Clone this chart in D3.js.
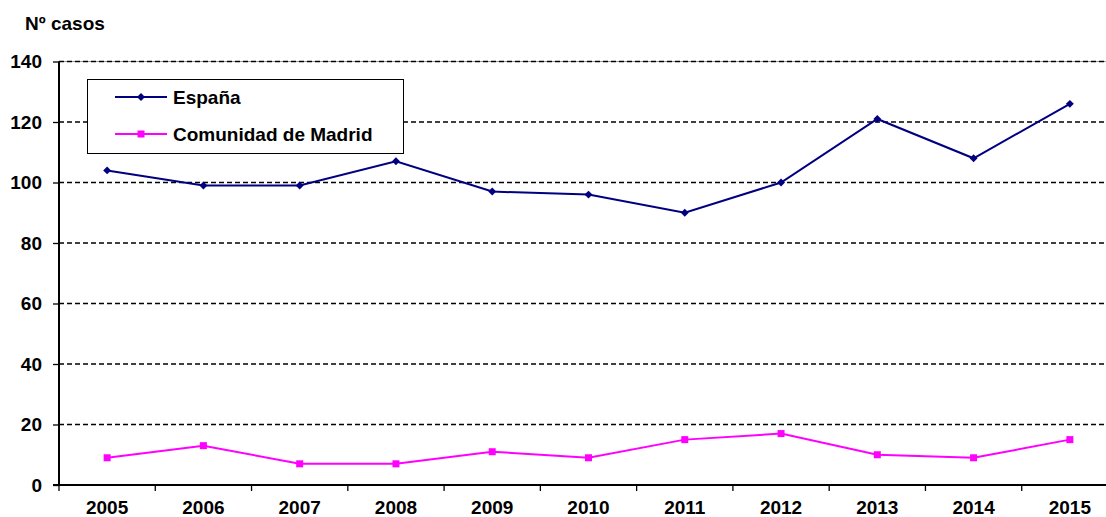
<!DOCTYPE html>
<html><head><meta charset="utf-8">
<script src="https://cdn.jsdelivr.net/npm/d3@7"></script>
<style>body{margin:0;background:#fff;}svg{display:block;font-family:"Liberation Sans",Arial,sans-serif;font-weight:bold;}</style>
</head><body>
<svg id="c" width="1106" height="517"></svg>
<script>
const years = ["2005","2006","2007","2008","2009","2010","2011","2012","2013","2014","2015"];
const espana = [104, 99, 99, 107, 97, 96, 90, 100, 121, 108, 126];
const madrid = [9, 13, 7, 7, 11, 9, 15, 17, 10, 9, 15];
const yTicks = [0, 20, 40, 60, 80, 100, 120, 140];
const seriesNames = ["España", "Comunidad de Madrid"];

(function () {
const FS = 19;
const svg = d3.select("#c");
const pL = 59, pR = 1118, pT = 61.5, pB = 485;
const x = d3.scaleBand().domain(years).range([pL, pR]).padding(0);
const y = d3.scaleLinear().domain([0, 140]).range([pB, pT]);

// gridlines
svg.append("line").attr("x1", pL).attr("x2", 1106).attr("y1", y(140)).attr("y2", y(140))
  .attr("stroke", "#999").attr("stroke-width", 1);
svg.append("g").selectAll("line").data(yTicks.filter(d => d > 0)).join("line")
  .attr("x1", pL).attr("x2", 1106).attr("y1", d => y(d)).attr("y2", d => y(d))
  .attr("stroke", "#000").attr("stroke-width", 1.3).attr("stroke-dasharray", "5,3");

// y axis
const ya = svg.append("g").attr("transform", `translate(${pL},0)`)
  .call(d3.axisLeft(y).tickValues(yTicks).tickSize(6).tickPadding(11));
ya.select(".domain").attr("stroke-width", 2).attr("d", `M0,${pT}V${pB}`);
ya.selectAll("text").attr("font-size", FS).attr("font-weight", "bold").attr("font-family", "Liberation Sans, Arial, sans-serif").attr("fill", "#000");
ya.selectAll(".tick line").attr("stroke-width", 1.3);

// x axis
const xa = svg.append("g").attr("transform", `translate(0,${pB})`);
xa.append("line").attr("x1", pL - 6).attr("x2", 1106).attr("stroke", "#000").attr("stroke-width", 2);
xa.selectAll("line.t").data(years).join("line").attr("class", "t")
  .attr("x1", d => x(d)).attr("x2", d => x(d)).attr("y1", 0).attr("y2", 6)
  .attr("stroke", "#000").attr("stroke-width", 1.3);
xa.selectAll("text").data(years).join("text")
  .attr("x", d => x(d) + x.bandwidth() / 2).attr("y", 29)
  .attr("text-anchor", "middle").attr("font-size", FS).text(d => d);

// title
svg.append("text").attr("x", 25).attr("y", 30).attr("font-size", FS).text("Nº casos");

const cx = d => x(d) + x.bandwidth() / 2;
const line = d3.line().x((d, i) => cx(years[i])).y(d => y(d));

// España
svg.append("path").datum(espana).attr("d", line).attr("fill", "none").attr("stroke", "#000080").attr("stroke-width", 2);
svg.append("g").selectAll("path").data(espana).join("path")
  .attr("d", d3.symbol(d3.symbolDiamond2, 40))
  .attr("transform", (d, i) => `translate(${cx(years[i])},${y(d)})`).attr("fill", "#000080");

// Madrid
svg.append("path").datum(madrid).attr("d", line).attr("fill", "none").attr("stroke", "#FF00FF").attr("stroke-width", 2);
svg.append("g").selectAll("rect").data(madrid).join("rect")
  .attr("x", (d, i) => cx(years[i]) - 3.5).attr("y", d => y(d) - 3.5)
  .attr("width", 7).attr("height", 7).attr("fill", "#FF00FF");

// legend
const lg = svg.append("g");
lg.append("rect").attr("x", 87.5).attr("y", 79.5).attr("width", 316).attr("height", 74)
  .attr("fill", "#fff").attr("stroke", "#000").attr("stroke-width", 1);
const lc = ["#000080", "#FF00FF"];
const ly = [97, 134];
seriesNames.forEach((n, i) => {
  lg.append("line").attr("x1", 115).attr("x2", 167).attr("y1", ly[i]).attr("y2", ly[i])
    .attr("stroke", lc[i]).attr("stroke-width", 2);
  if (i === 0) {
    lg.append("path").attr("d", d3.symbol(d3.symbolDiamond2, 40))
      .attr("transform", `translate(141,${ly[i]})`).attr("fill", lc[i]);
  } else {
    lg.append("rect").attr("x", 137.5).attr("y", ly[i] - 3.5).attr("width", 7).attr("height", 7).attr("fill", lc[i]);
  }
  lg.append("text").attr("x", 173).attr("y", ly[i] + 7).attr("font-size", FS).text(n);
});
})();
</script>
</body></html>
